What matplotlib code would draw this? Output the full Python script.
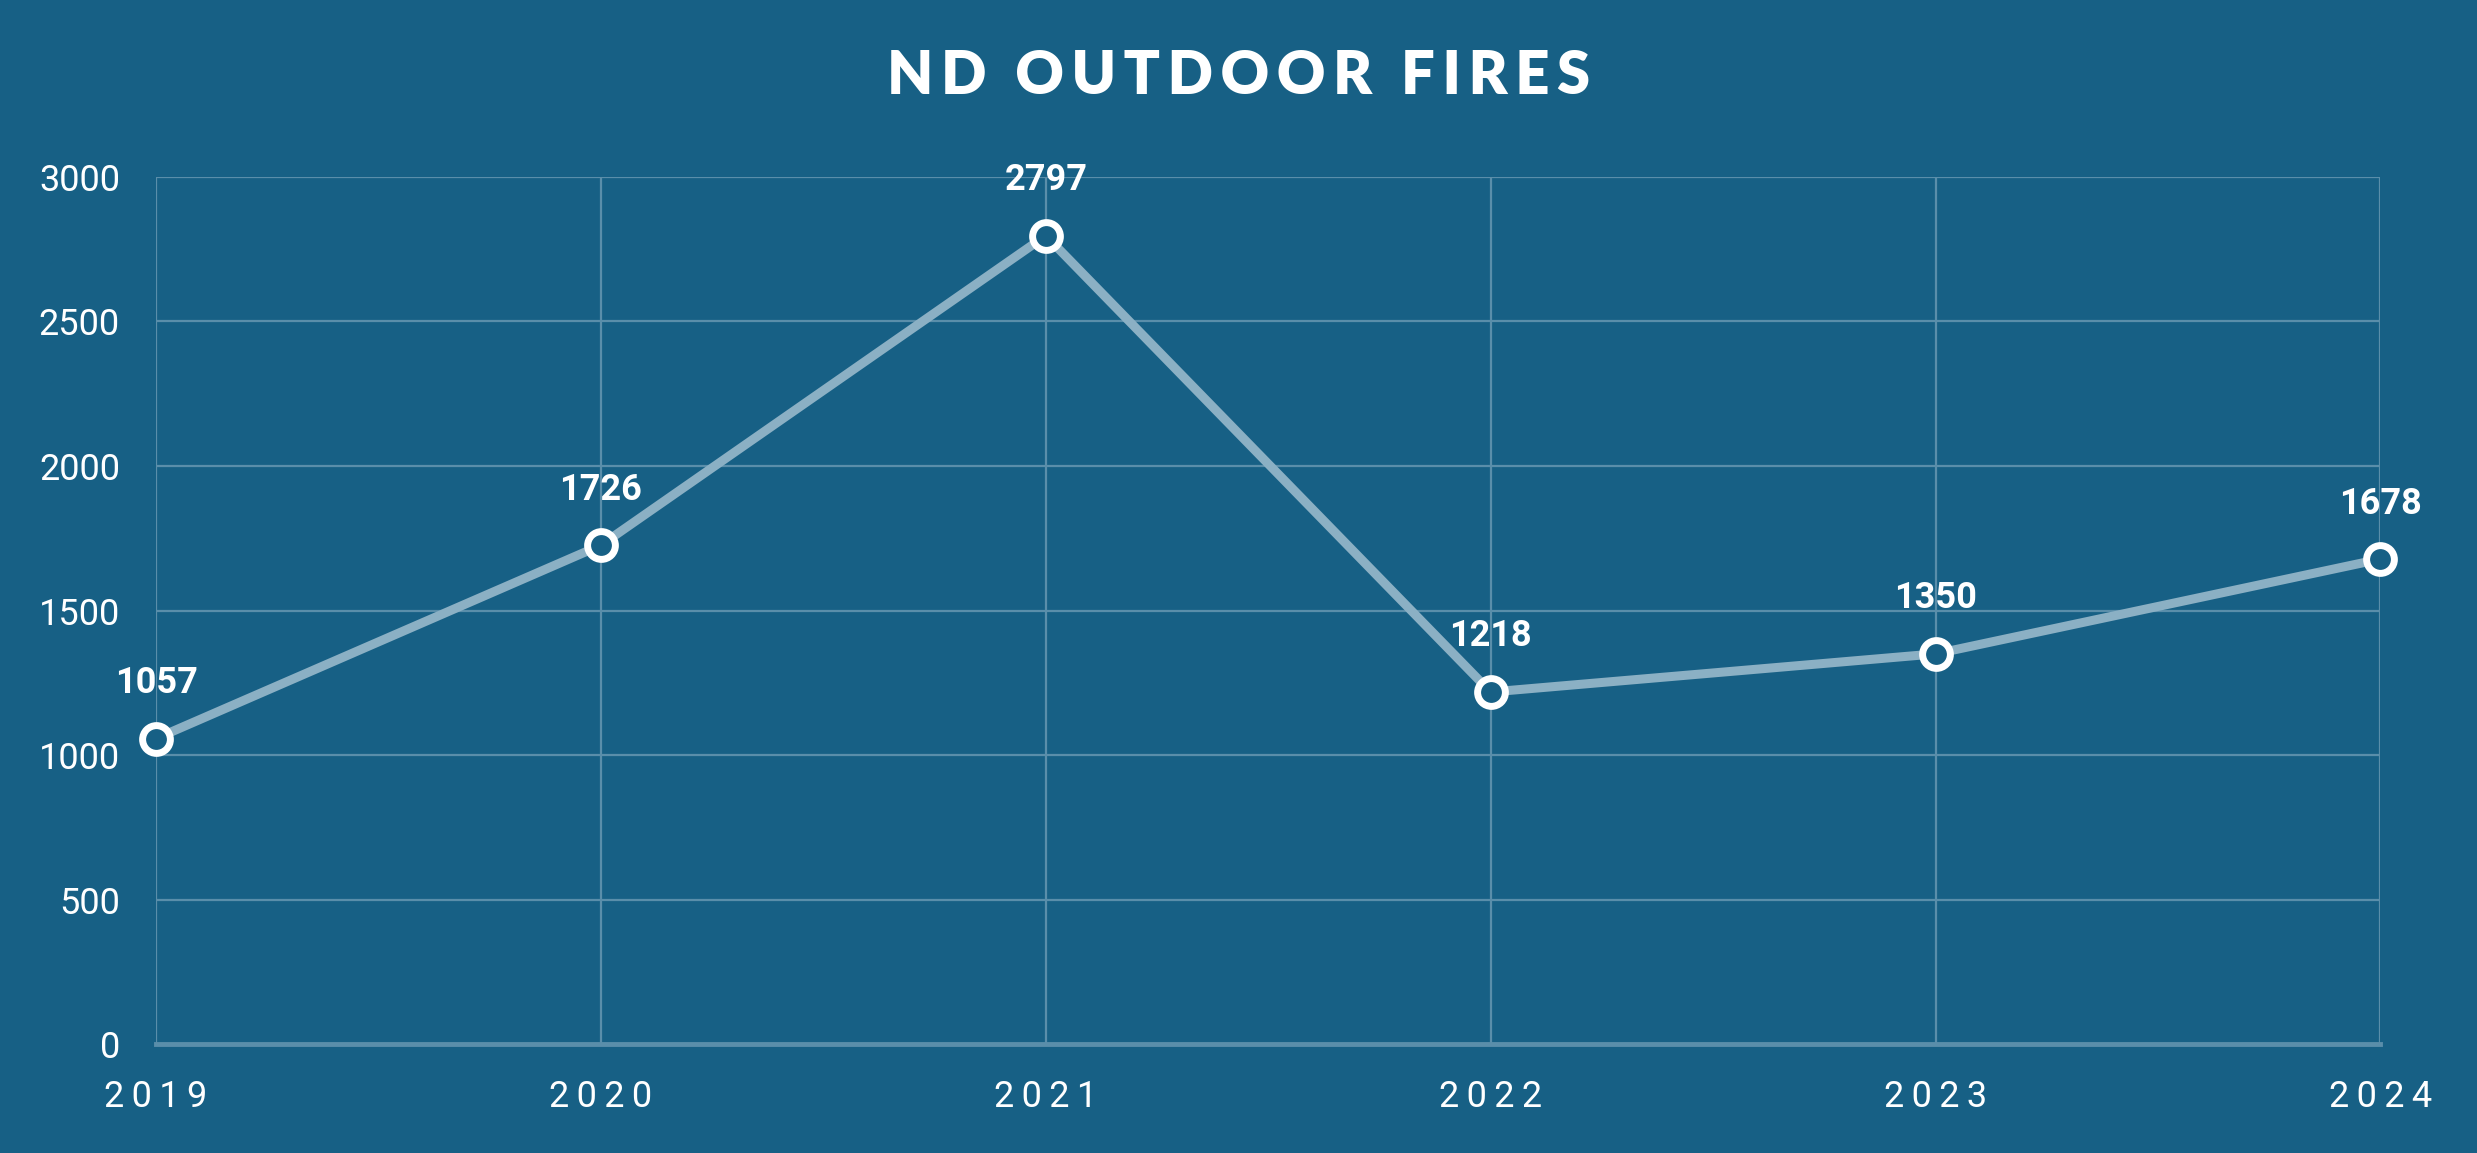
import matplotlib
matplotlib.use("Agg")
import matplotlib.pyplot as plt

# data
years = ["2019", "2020", "2021", "2022", "2023", "2024"]
fires = [1057, 1726, 2797, 1218, 1350, 1678]
y_ticks = [0, 500, 1000, 1500, 2000, 2500, 3000]

BG = "#176085"
LINE = "#8bb0c4"
GRID = "#5a8eaa"


def spaced(s, sep="\u2009"):
    """Fake letter spacing with thin spaces"""
    return sep.join(s)


fig = plt.figure(figsize=(24.77, 11.53), dpi=100, facecolor=BG)
ax = fig.add_axes([0.063, 0.0945, 0.898, 0.752], facecolor=BG)

x = list(range(len(years)))
ax.plot(x, fires, color=LINE, lw=6.5, zorder=3, clip_on=False,
        solid_capstyle="round")
ax.plot(x, fires, ls="none", marker="o", ms=20, mfc=BG, mec="white",
        mew=5, zorder=4, clip_on=False)

for xi, v in zip(x, fires):
    ax.annotate(str(v), (xi, v), xytext=(0, 40), textcoords="offset points",
                ha="center", va="center", color="white", fontsize=26,
                fontweight="bold", family=["Roboto", "DejaVu Sans"])

ax.set_xlim(0, len(years) - 1)
ax.set_ylim(0, 3000)
ax.set_xticks(x)
ax.set_xticklabels([spaced(y) for y in years])
ax.set_yticks(y_ticks)
ax.set_yticklabels([str(t) for t in y_ticks])

for lbl in ax.get_xticklabels() + ax.get_yticklabels():
    lbl.set_family(["Roboto", "DejaVu Sans"])
    lbl.set_fontweight("normal")
    lbl.set_fontsize(26)
    lbl.set_color("white")

ax.tick_params(axis="both", length=0)
ax.tick_params(axis="x", pad=25)
ax.tick_params(axis="y", pad=26)

ax.grid(True, color=GRID, lw=1.6, zorder=0)
ax.set_axisbelow(True)
for side in ["top", "right", "left"]:
    ax.spines[side].set_visible(False)
ax.spines["bottom"].set_color(GRID)
ax.spines["bottom"].set_linewidth(3.5)

fig.text(0.5, 0.934, spaced("ND OUTDOOR FIRES"), ha="center", va="center",
         color="white", fontsize=43, fontweight="heavy",
         family=["Lato", "DejaVu Sans"])

fig.savefig("out.png", dpi=100, facecolor=BG)
